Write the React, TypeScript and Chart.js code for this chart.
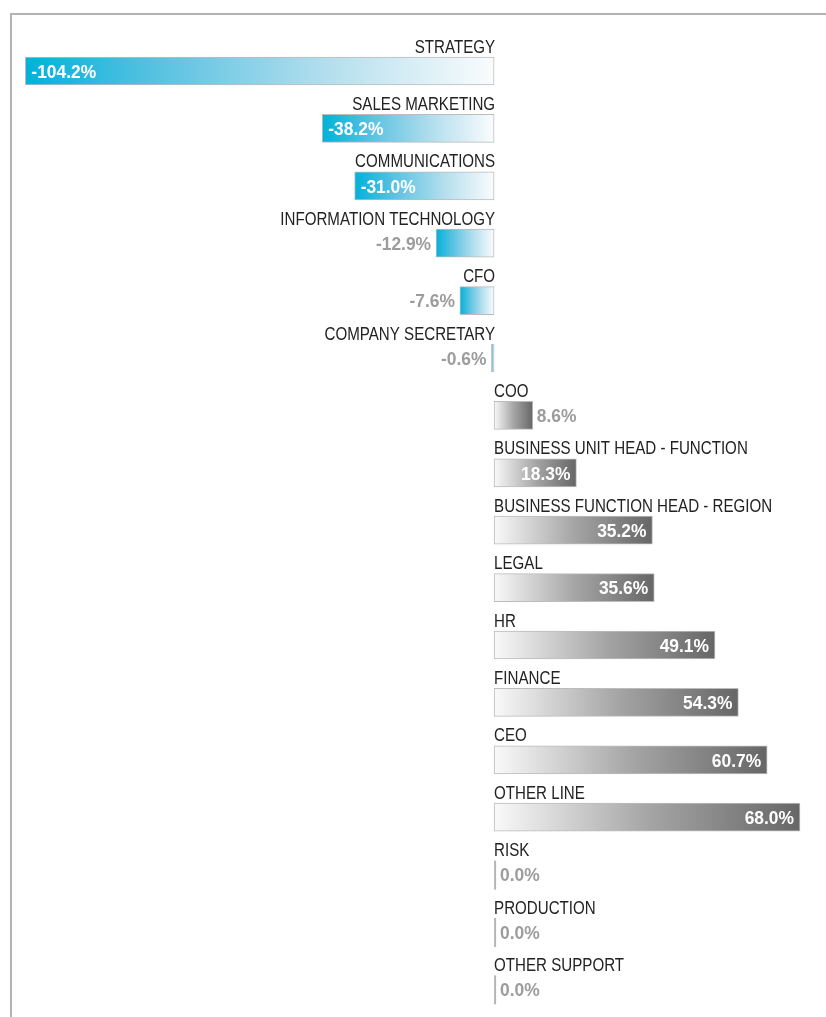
import React, { useEffect, useRef } from "react";
import { Chart, registerables } from "chart.js";

Chart.register(...registerables);

const categories = [
  "STRATEGY",
  "SALES MARKETING",
  "COMMUNICATIONS",
  "INFORMATION TECHNOLOGY",
  "CFO",
  "COMPANY SECRETARY",
  "COO",
  "BUSINESS UNIT HEAD - FUNCTION",
  "BUSINESS FUNCTION HEAD - REGION",
  "LEGAL",
  "HR",
  "FINANCE",
  "CEO",
  "OTHER LINE",
  "RISK",
  "PRODUCTION",
  "OTHER SUPPORT",
];

const values = [
  -104.2, -38.2, -31.0, -12.9, -7.6, -0.6, 8.6, 18.3, 35.2, 35.6, 49.1, 54.3,
  60.7, 68.0, 0.0, 0.0, 0.0,
];

const valueLabels = [
  "-104.2%", "-38.2%", "-31.0%", "-12.9%", "-7.6%", "-0.6%", "8.6%", "18.3%",
  "35.2%", "35.6%", "49.1%", "54.3%", "60.7%", "68.0%", "0.0%", "0.0%", "0.0%",
];

const FONT = '"Liberation Sans", Arial, sans-serif';

function drawCondensed(ctx: any, text: string, x: number, y: number, align: string, sx: number) {
  ctx.save();
  ctx.translate(x, y);
  ctx.scale(sx, 1);
  ctx.textAlign = align;
  ctx.textBaseline = "alphabetic";
  ctx.fillText(text, 0, 0);
  ctx.restore();
}

export default function App() {
  const canvasRef = useRef<HTMLCanvasElement | null>(null);

  useEffect(() => {
    const canvas = canvasRef.current;
    if (!canvas) return;

    const labelPlugin = {
      id: "rowLabels",
      afterDatasetsDraw(chart: any) {
        const ctx = chart.ctx;
        const meta = chart.getDatasetMeta(0);
        const x0 = chart.scales.x.getPixelForValue(0);
        ctx.save();
        meta.data.forEach((bar: any, i: number) => {
          const v = values[i];
          const h = bar.height;
          const top = bar.y - h / 2;
          // category label
          ctx.font = `18px ${FONT}`;
          ctx.fillStyle = "#222222";
          drawCondensed(ctx, categories[i], v < 0 ? x0 + 1 : x0, top - 4.5, v < 0 ? "right" : "left", 0.84);

          // zero bar line
          if (v === 0) {
            ctx.fillStyle = "#b5b5b5";
            ctx.fillRect(x0, top, 2, h + 1);
          }

          // value label
          ctx.font = `bold 18.5px ${FONT}`;
          const ty = bar.y + 6.8;
          const sx = 0.94;
          const inside = Math.abs(v) >= 15;
          if (inside) {
            ctx.fillStyle = "#ffffff";
            if (v < 0) drawCondensed(ctx, valueLabels[i], bar.x + 6, ty, "left", sx);
            else drawCondensed(ctx, valueLabels[i], bar.x - 6, ty, "right", sx);
          } else {
            ctx.fillStyle = "#9c9c9c";
            if (v < 0) drawCondensed(ctx, valueLabels[i], Math.min(bar.x, x0) - 5, ty, "right", sx);
            else drawCondensed(ctx, valueLabels[i], Math.max(bar.x, x0 + 2) + 4, ty, "left", sx);
          }
        });
        ctx.restore();
      },
    };

    const chart = new Chart(canvas, {
      type: "bar",
      data: {
        labels: categories,
        datasets: [
          {
            data: values,
            barThickness: 28,
            borderSkipped: false,
            borderColor: "#bcbcbc",
            borderWidth: (c: any) => (values[c.dataIndex] === 0 ? 0 : 1),
            backgroundColor: (c: any) => {
              const chartRef = c.chart;
              const v = values[c.dataIndex];
              const xs = chartRef.scales && chartRef.scales.x;
              if (!xs || v === undefined || !chartRef.chartArea) return "#cccccc";
              const x0 = xs.getPixelForValue(0);
              const x1 = xs.getPixelForValue(v);
              if (!isFinite(x0) || !isFinite(x1)) return "#cccccc";
              if (x0 === x1) return "rgba(0,0,0,0)";
              const g = chartRef.ctx.createLinearGradient(x1, 0, x0, 0);
              if (v < 0) {
                g.addColorStop(0, "#00b2da");
                g.addColorStop(0.3, "#5ec3e2");
                g.addColorStop(0.65, "#b5dfee");
                g.addColorStop(1, "#fafcfd");
              } else {
                g.addColorStop(0, "#666666");
                g.addColorStop(0.5, "#a6a6a6");
                g.addColorStop(1, "#f9f9f9");
              }
              return g;
            },
          },
        ],
      },
      options: {
        indexAxis: "y",
        responsive: false,
        animation: false,
        layout: { padding: { left: 10.5, right: 8, top: 42.3, bottom: 1.9 } },
        scales: {
          x: { type: "linear", min: -107.5, max: 72, display: false },
          y: { type: "category", display: false, offset: true },
        },
        plugins: {
          legend: { display: false },
          tooltip: { enabled: false },
        },
      },
      plugins: [labelPlugin],
    } as any);

    return () => chart.destroy();
  }, []);

  return (
    <div
      style={{
        position: "absolute",
        left: 0,
        top: 0,
        width: 826,
        height: 1017,
        overflow: "hidden",
        background: "#ffffff",
      }}
    >
      <div
        style={{
          position: "absolute",
          left: 10,
          top: 13,
          width: 900,
          height: 1100,
          borderLeft: "2px solid #b3b3b3",
          borderTop: "2px solid #b3b3b3",
        }}
      />
      <canvas
        ref={canvasRef}
        width={826}
        height={1020}
        style={{ position: "absolute", left: 0, top: 0, width: 826, height: 1020 }}
      />
    </div>
  );
}
